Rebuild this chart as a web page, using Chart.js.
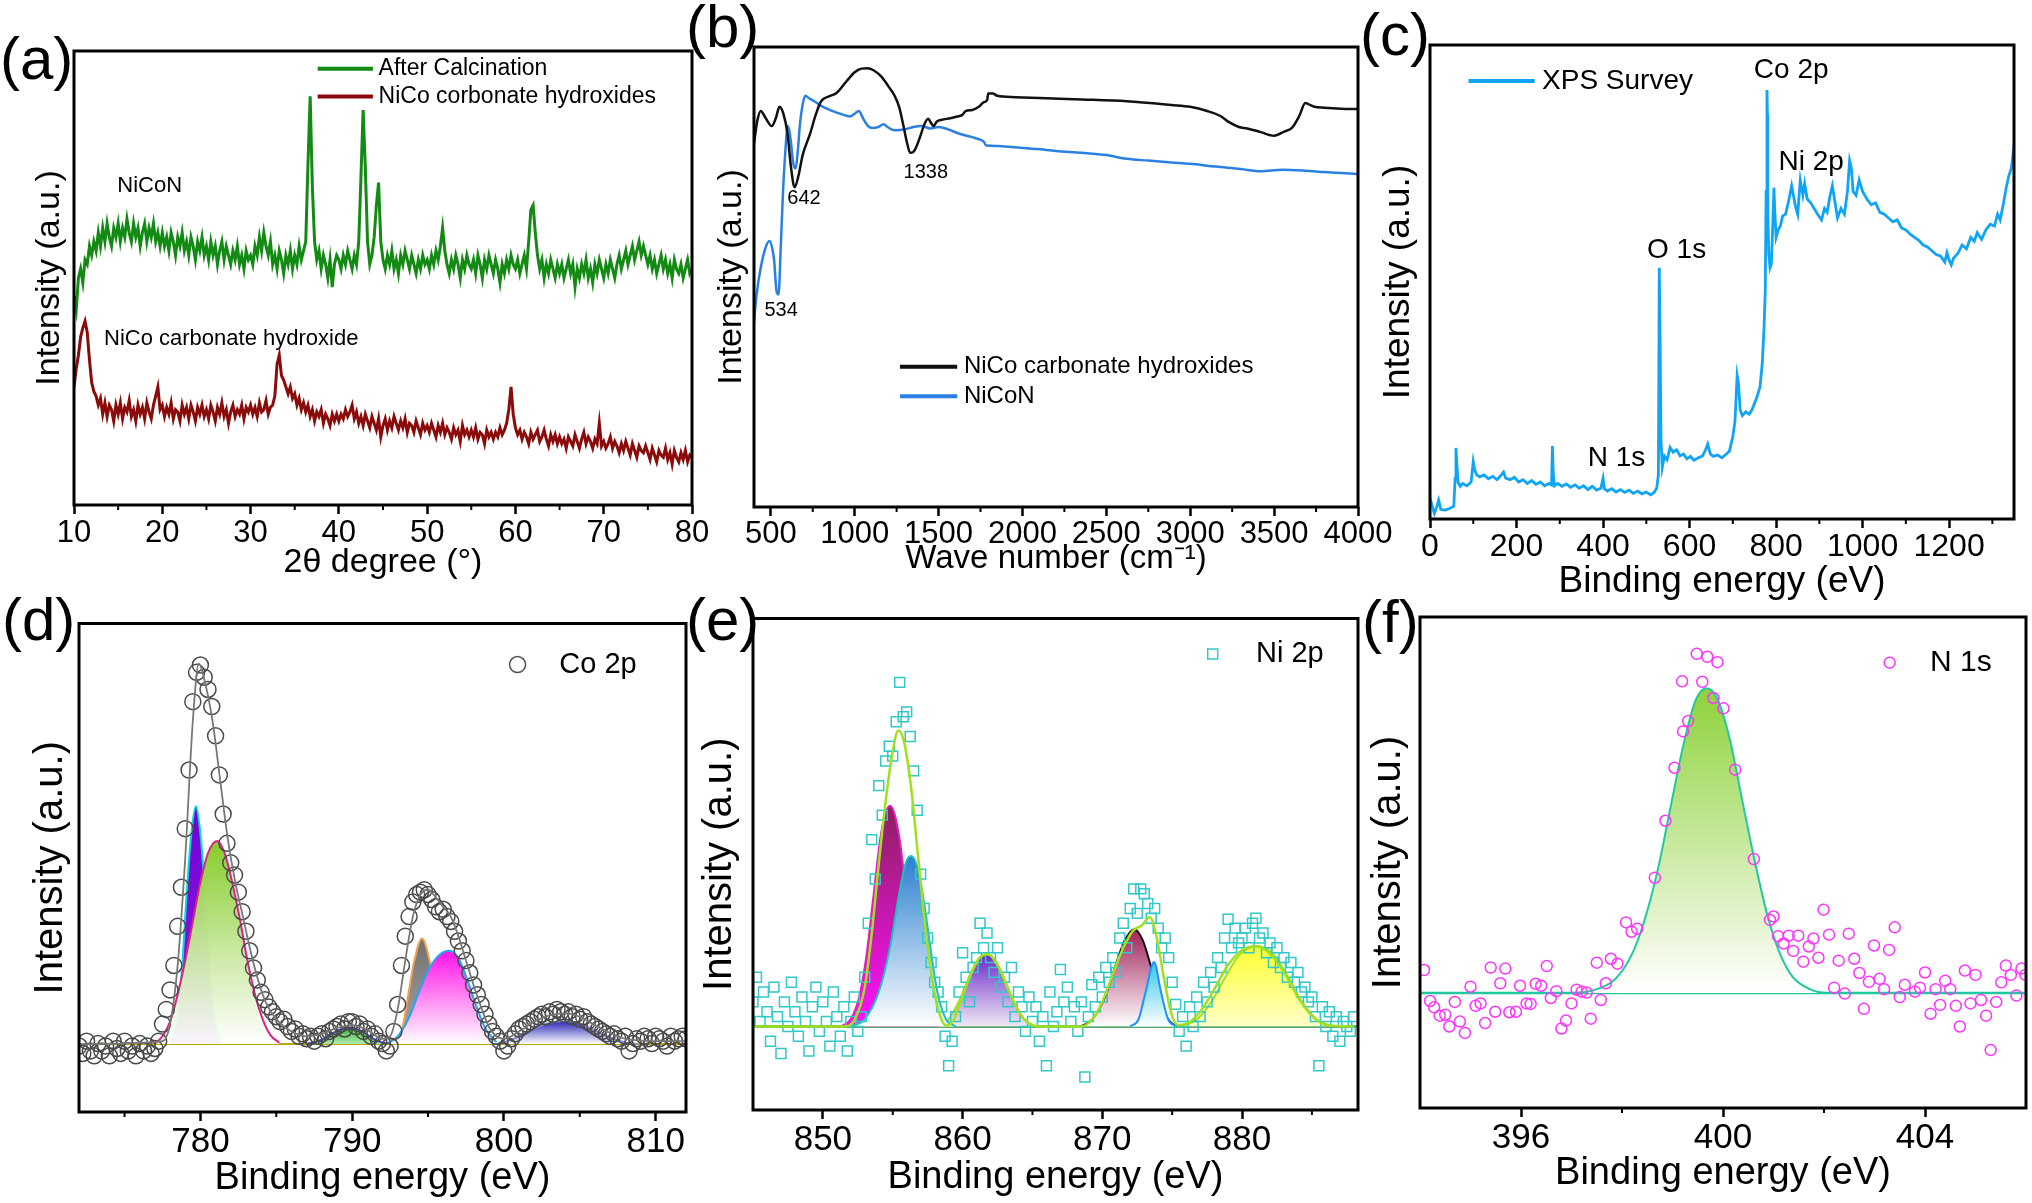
<!DOCTYPE html>
<html>
<head>
<meta charset="utf-8">
<script src="https://cdn.jsdelivr.net/npm/chart.js@4.4.0/dist/chart.umd.min.js"></script>
<style>
html, body { margin: 0; padding: 0; background: #fff; }
body { width: 2032px; height: 1203px; position: relative; overflow: hidden; font-family: 'Liberation Sans', Arial, sans-serif; }
.pan { position: absolute; }
.lbl { position: absolute; font-size: 60px; line-height: 60px; color: #000; }
</style>
</head>
<body>
<div class="lbl" style="left:0px;top:29px">(a)</div>
<div class="lbl" style="left:686px;top:-3px">(b)</div>
<div class="lbl" style="left:1360px;top:5px">(c)</div>
<div class="lbl" style="left:2px;top:590px">(d)</div>
<div class="lbl" style="left:686px;top:590px">(e)</div>
<div class="lbl" style="left:1362px;top:592px">(f)</div>
<script>
// ---------- (a) XRD, 10-80 deg every 0.25 deg ----------
const xrdStart = 10, xrdStep = 0.25;
const xrdNiCoN = [
  46, 43, 50, 52, 49, 54, 53, 57, 55, 58, 56, 60, 57, 61, 58, 62, 59, 57, 61, 59,
  62, 58, 61, 59, 63, 60, 58, 62, 59, 61, 57, 60, 62, 58, 61, 59, 62, 58, 60, 57,
  60, 57, 59, 56, 60, 58, 55, 59, 57, 60, 56, 58, 55, 59, 57, 54, 58, 56, 59, 55,
  57, 54, 58, 55, 57, 53, 56, 58, 54, 57, 55, 53, 56, 54, 57, 53, 55, 52, 56, 54,
  55, 53, 57, 55, 59, 56, 60, 57, 55, 58, 53, 55, 52, 56, 54, 51, 55, 53, 56, 52,
  55, 53, 57, 54, 56, 58, 75, 90, 70, 58, 54, 56, 52, 55, 53, 50, 54, 48, 53, 55,
  54, 52, 55, 53, 56, 54, 52, 55, 53, 58, 72, 87, 74, 58, 53, 55, 59, 66, 71, 58,
  54, 52, 55, 53, 56, 52, 54, 51, 55, 53, 56, 54, 52, 55, 53, 51, 54, 52, 55, 53,
  54, 52, 55, 53, 56, 54, 57, 61, 56, 53, 51, 54, 52, 55, 53, 50, 54, 52, 55, 53,
  52, 54, 51, 55, 53, 50, 54, 52, 55, 53, 51, 54, 52, 49, 53, 51, 54, 52, 55, 53,
  52, 54, 51, 53, 55, 52, 58, 65, 66, 60, 55, 52, 54, 50, 53, 51, 54, 52, 50, 53,
  51, 53, 50, 52, 54, 51, 53, 48, 52, 50, 53, 51, 54, 50, 52, 49, 53, 51, 54, 52,
  50, 53, 51, 54, 52, 50, 53, 55, 52, 54, 56, 53, 55, 57, 54, 56, 58, 55, 57, 55,
  53, 55, 52, 54, 51, 53, 55, 52, 54, 51, 53, 50, 54, 52, 51, 53, 50, 52, 54, 51,
  52
];
const xrdCarbonate = [
  26, 30, 33, 37, 39, 40.5, 38, 32, 27, 25, 24, 22, 23.5, 20, 22.5, 19.5, 22, 21, 18.5, 22,
  20, 22.5, 19, 21.5, 20.5, 23, 19.5, 21, 18.5, 22, 20, 21.5, 19, 22.5, 20.5, 19, 22, 24, 26, 21,
  22, 19.5, 21.5, 20, 22.5, 19, 21, 20.5, 18.5, 22, 20, 21.5, 19, 22, 20.5, 18.5, 21.5, 20, 22, 19.5,
  21, 19, 22, 20.5, 18.5, 21.5, 20, 22.5, 19.5, 21, 18, 20.5, 22, 19.5, 21, 20, 22, 19, 21.5, 20.5,
  22, 20, 21.5, 19.5, 22.5, 20.5, 21, 23, 20, 21.5, 22, 24, 31, 33, 28.5, 27.5, 26, 24.5, 26, 23.5,
  24.5, 22, 23.5, 21, 22.5, 20.5, 22, 19.5, 21, 18.5, 20.5, 19.5, 21, 18, 20, 19, 17.5, 20, 18.5, 20,
  18.5, 20, 19, 21, 19.5, 20.5, 22, 19, 20.5, 18, 19.5, 17.5, 20, 18.5, 17, 19.5, 18, 16.5, 19, 15,
  17.5, 19, 16.5, 18.5, 17, 19.5, 18, 16.5, 18.5, 17, 19, 16, 18, 17.5, 16, 18.5, 17, 15.5, 18, 16.5,
  17.5, 16, 18, 16.5, 15, 17.5, 16, 18, 15.5, 17, 16, 14.5, 17, 15.5, 16.5, 14, 17.5, 15.5, 16.5, 15,
  16.5, 15, 17, 14.5, 16, 15.5, 13.5, 16.5, 15, 16, 14.5, 16, 15, 17, 15.5, 16.5, 18, 21, 26, 20,
  17, 15.5, 16.5, 14.5, 16, 15, 13.5, 16, 14.5, 15.5, 16.5, 14, 15, 16.5, 14.5, 13, 15.5, 14, 15.5, 13.5,
  15, 13.5, 14.5, 12.5, 15, 14, 13, 15.5, 14, 12.5, 14.5, 16, 13.5, 15, 14, 12.5, 14.5, 13.5, 18, 13,
  14, 12.5, 13.5, 15, 12.5, 14, 13, 11.5, 13.5, 12, 14, 12.5, 11, 13.5, 12, 10.5, 13, 12, 11.5, 13,
  11.5, 10, 12.5, 11, 9.5, 12, 11, 10.5, 12.5, 10, 11.5, 9, 12, 10.5, 9.5, 11.5, 10, 12, 9.5, 11,
  10.5
];
const xrdTicks = [10, 20, 30, 40, 50, 60, 70, 80];
const xrdMinor = [15, 25, 35, 45, 55, 65, 75];

// ---------- (b) FTIR ----------
const ftirCarbX = [400, 420, 440, 470, 506, 530, 552, 575, 600, 620, 642, 665, 690, 733, 770, 800, 850, 892, 950, 1000,
  1040, 1078, 1110, 1158, 1200, 1238, 1265, 1290, 1310, 1331, 1350, 1371, 1395, 1411, 1438, 1455, 1470, 1490, 1520, 1570,
  1611, 1640, 1664, 1700, 1740, 1770, 1790, 1796, 1823, 1850, 1957, 2100, 2356, 2622, 2888, 3000, 3101, 3180, 3234, 3290,
  3340, 3420, 3500, 3560, 3606, 3650, 3686, 3720, 3739, 3800, 3900, 4000];
const ftirCarbY = [79, 84, 86.1, 84.5, 82.8, 84.5, 87, 85.5, 81.1, 74, 69.5, 72, 76.5, 81, 85.5, 88.2, 89.3, 90, 92.5, 94.5,
  95.3, 95.4, 95, 93.6, 91.5, 89.4, 87, 83, 79.5, 77, 77.2, 78.6, 81, 82.8, 84.4, 83.5, 82.8, 83.8, 84.2, 84.5,
  84.9, 85.2, 86.1, 86.3, 87, 88, 88.5, 89.9, 89.9, 89.4, 89.1, 88.9, 88.6, 88.2, 87.4, 87.0, 86.1, 85, 83.6, 82.6,
  82.3, 81.5, 80.7, 81.6, 82.4, 85, 87.8, 87.3, 87, 86.8, 86.6, 86.5];
const ftirNiCoNX = [400, 415, 440, 470, 493, 510, 520, 534, 546, 560, 573, 590, 600, 612, 621, 635, 648, 660, 675, 690,
  706, 730, 759, 800, 866, 920, 972, 1000, 1025, 1050, 1080, 1105, 1140, 1172, 1200, 1238, 1300, 1350, 1398, 1450,
  1500, 1557, 1620, 1700, 1744, 1770, 1784, 1850, 1950, 2090, 2200, 2356, 2500, 2622, 2750, 2888, 3000, 3154, 3300, 3420,
  3550, 3686, 3800, 3900, 4000];
const ftirNiCoNY = [40.3, 46, 52, 56.5, 57.8, 56, 53.6, 47, 46.2, 57, 68.6, 79, 82.8, 81.5, 79, 74.5, 73.6, 77, 83.6, 87.5,
  89.4, 88.8, 88.2, 87.2, 86.1, 85.4, 84.9, 85.5, 86.1, 84.5, 82.8, 82.4, 82.6, 83.2, 82.5, 81.9, 82.1, 82.6, 82.8, 82.3,
  82.6, 82.1, 81.2, 80.4, 79.9, 79.4, 78.6, 78.5, 78.2, 77.8, 77.4, 77, 76.5, 75.7, 75.3, 74.9, 74.6, 74, 73.5, 73,
  73.3, 73.1, 72.8, 72.6, 72.4];
const ftirTicks = [500, 1000, 1500, 2000, 2500, 3000, 3500, 4000];
const ftirMinor = [750, 1250, 1750, 2250, 2750, 3250, 3750];

// ---------- (c) XPS survey ----------
const surveyX = [0, 5, 10, 15, 20, 25, 35, 45, 55, 58, 60, 62, 65, 70, 75, 85, 95, 100, 103, 108,
  115, 125, 135, 145, 155, 165, 170, 175, 185, 195, 205, 215, 225, 235, 245, 255, 265, 275, 281, 283,
  285, 288, 295, 305, 315, 325, 335, 345, 355, 365, 375, 385, 395, 400, 403, 410, 420, 430, 440, 450,
  460, 470, 480, 490, 500, 510, 518, 524, 528, 530, 532, 534, 537, 542, 548, 555, 562, 570, 578, 586,
  594, 602, 610, 620, 630, 637, 642, 648, 655, 665, 675, 685, 692, 700, 705, 710, 713, 717, 722, 730,
  738, 745, 755, 763, 768, 772, 775, 777, 779, 780, 781, 783, 786, 789, 792, 795, 797, 800, 805, 810,
  815, 822, 830, 836, 840, 845, 850, 856, 862, 866, 872, 880, 888, 896, 905, 912, 918, 925, 930, 935,
  942, 950, 958, 965, 970, 974, 978, 985, 992, 1000, 1010, 1020, 1030, 1040, 1050, 1060, 1070, 1080, 1090, 1100,
  1110, 1120, 1130, 1140, 1150, 1160, 1170, 1180, 1190, 1195, 1200, 1205, 1210, 1220, 1230, 1240, 1250, 1258, 1265, 1275,
  1285, 1295, 1305, 1312, 1318, 1325, 1332, 1338, 1344, 1348, 1350];
const surveyY = [4.4, 2.8, 1.2, 2.4, 4.0, 2.0, 1.9, 2.2, 2.7, 8.5, 15.0, 11.7, 7.7, 6.9, 7.5, 7.0, 7.8, 12.1, 10.5, 9.3,
  8.9, 9.3, 8.5, 9.0, 8.3, 9.3, 9.9, 8.6, 8.3, 8.8, 7.8, 8.3, 7.5, 8.1, 7.3, 7.8, 7.0, 7.5, 7.2, 15.4,
  9.5, 7.0, 7.5, 6.9, 7.4, 6.7, 7.2, 6.5, 7.0, 6.2, 6.9, 6.1, 6.5, 8.6, 6.4, 5.9, 6.4, 5.7, 6.2, 5.6,
  6.1, 5.4, 5.9, 5.3, 5.7, 5.1, 5.6, 6.5, 9.3, 53.0, 36.8, 16.6, 10.9, 13.3, 12.5, 15.1, 14.1, 14.6, 13.3, 13.7,
  12.7, 13.2, 12.4, 12.9, 13.3, 14.6, 15.8, 13.7, 13.2, 13.5, 12.9, 13.7, 14.3, 17.4, 20.6, 30.3, 28.7, 23.0, 21.8, 22.6,
  22.1, 23.2, 25.5, 27.9, 32.7, 40.0, 48.1, 69.1, 90.5, 85.3, 64.3, 56.1, 53.0, 53.8, 61.0, 69.9, 65.1, 59.4, 61.0, 61.8,
  63.9, 64.3, 67.5, 70.3, 68.3, 65.9, 64.3, 71.5, 68.3, 70.7, 67.5, 66.7, 65.5, 64.3, 63.1, 65.5, 64.7, 68.3, 70.3, 67.5,
  63.5, 65.5, 64.3, 69.1, 75.6, 74.0, 69.1, 68.3, 71.5, 69.1, 67.5, 66.3, 66.7, 64.7, 64.3, 63.5, 62.7, 63.1, 61.4, 61.0,
  60.1, 59.4, 58.8, 57.8, 57.4, 56.6, 55.8, 55.5, 54.2, 56.2, 54.6, 53.6, 55.0, 56.0, 57.8, 57.0, 59.4, 58.6, 60.4, 59.0,
  61.0, 62.2, 61.8, 64.3, 63.1, 66.3, 69.9, 72.4, 74.0, 77.2, 78.8];
const surveyTicks = [0, 200, 400, 600, 800, 1000, 1200];
const surveyMinor = [100, 300, 500, 700, 900, 1100, 1300];

// ---------- (d) Co 2p, 772-812 eV every 0.25 eV ----------
const coStart = 772, coStep = 0.25;
const coData = [
  13.5, 12.0, 14.5, 12.5, 11.5, 14.0, 12.5, 13.5, 11.5, 14.5, 13.0, 12.0, 14.5, 12.5, 13.5, 11.5, 14.0, 12.5, 13.5, 12.0,
  13.0, 14.5, 18.0, 21.0, 25.0, 30.0, 38.0, 46.0, 58.0, 70.0, 84.0, 90.0, 91.5, 89.0, 86.5, 83.0, 77.0, 69.0, 61.0, 55.0,
  51, 48.5, 45, 41, 37, 33, 29.5, 27, 24.5, 23, 21.5, 20.5, 19.5, 18.5, 19, 17.5, 16.5, 17, 15.5, 16,
  15, 15.5, 14.5, 15.5, 16, 15, 16.5, 17, 17.5, 18, 17, 18.5, 18.5, 17.5, 18, 16.5, 17, 15.5, 16, 14.5,
  14, 12.5, 13.5, 16.5, 22, 30, 36, 40, 43, 44.5, 45, 45.5, 44.5, 43.5, 42, 41, 41.5, 40, 39, 37,
  35, 33, 31, 28.5, 26, 24, 22, 20, 18, 16.5, 15.5, 14.5, 12.5, 13.5, 15, 16, 17, 17.5, 18, 18.5,
  19, 19.5, 20, 19.5, 20.5, 20, 21, 20.5, 20, 20.5, 19.5, 20, 19, 19.5, 18.5, 18, 17.5, 17, 16.5, 16,
  15.5, 16, 15, 14.5, 15.5, 12.5, 14, 15, 14.5, 15.5, 15, 14, 15.5, 15, 14.5, 13.5, 15.5, 14.5, 15, 15.5,
  15.0
];
const coFitX = [772, 777.5, 778, 778.5, 779, 779.5, 779.9, 780.3, 780.8, 781.3, 781.8, 782.3, 782.8, 783.3, 783.8,
  784.3, 785, 786, 787, 788, 789, 790, 791, 792, 792.5, 793, 793.5, 794, 794.5, 795, 795.5, 796, 796.5, 797, 797.5,
  798, 798.5, 799, 799.5, 800, 801, 802, 803, 804, 805, 806, 807, 808, 810, 812];
const coFitY = [13.9, 14.5, 18, 30, 52, 80, 91.8, 88, 80, 68, 56, 47, 40, 33, 27,
  22.5, 19, 16.5, 15.5, 16, 17.2, 17.8, 16.8, 15, 15.5, 21, 31, 40, 44.5, 45.5, 44, 42, 40, 36, 31,
  26, 21.5, 17.5, 15.5, 15, 16.5, 18.5, 19.8, 20.2, 19.5, 17.8, 16.2, 15, 14.5, 14.5];
const coBase = 13.9;
const coP1X = [778.0, 778.5, 778.8, 779.1, 779.4, 779.7, 780.0, 780.3, 780.6, 780.9, 781.4];
const coP1Y = [14.2, 20, 30, 45, 57, 62.6, 57, 45, 30, 20, 14.2];
const coP2X = [777.0, 777.5, 778, 778.5, 779, 779.5, 780, 780.5, 781.1, 781.6, 782.1, 782.6, 783.1, 783.6, 784.1, 784.6, 785.2];
const coP2Y = [14, 15.5, 18.5, 24, 31, 39, 47, 53, 55.5, 53, 47, 39.5, 31, 24, 19, 15.8, 14.2];
const coP3X = [787, 788, 789, 789.8, 790.6, 791.5, 792.3];
const coP3Y = [13.9, 14.8, 16.6, 17.3, 16.6, 14.8, 13.9];
const coP4X = [792.8, 793.3, 793.7, 794.1, 794.6, 795.1, 795.5, 795.9, 796.4];
const coP4Y = [14, 17, 24, 31, 35.5, 31, 24, 17, 14];
const coP5X = [792.3, 793, 793.7, 794.4, 795.1, 795.8, 796.4, 797, 797.6, 798.2, 798.8, 799.5];
const coP5Y = [14, 15.5, 19, 24.5, 29.5, 32.3, 33, 31.5, 27, 21.5, 17, 14.3];
const coP6X = [799.5, 800.5, 801.5, 802.5, 803.5, 804, 804.8, 805.8, 806.8, 808, 808.8];
const coP6Y = [13.9, 14.8, 16.3, 17.8, 18.5, 18.6, 18.3, 17, 15.5, 14.2, 13.9];
const coTicks = [780, 790, 800, 810];
const coMinor = [775, 785, 795, 805];

// ---------- (e) Ni 2p, 845-888 eV every 0.25 eV ----------
const niStart = 845, niStep = 0.25;
const niData = [
  22, 27, 18, 24, 20, 14, 25, 19, 11.5, 22, 17, 26, 20, 15, 23, 18, 12, 21, 25, 16,
  22, 18, 13, 24, 19, 15, 21, 12, 18, 23, 16, 19, 27, 38, 55, 47, 66, 60, 71, 74,
  72, 79, 87, 80, 81, 76, 69, 61, 48, 41, 35, 30, 26, 24, 21, 15, 9, 14, 19, 24,
  32, 27, 22, 29, 31, 38, 33, 36, 31, 28, 33, 25, 27, 22, 29, 19, 24, 21, 16, 23,
  18, 21, 14, 19, 9, 24, 17, 20, 28.6, 22, 25, 18, 21, 16, 22, 6.7, 19, 25.5, 21, 27,
  23, 29, 26, 31, 28, 35, 38, 33, 41, 45, 40, 45, 44, 42, 39, 41, 37, 33, 35, 31,
  26, 21.5, 16, 19, 13, 21, 17, 23, 19, 26, 22, 28, 25, 31, 29, 35, 38.8, 33, 37, 34,
  35, 37, 33, 38, 39, 35, 36, 32, 34, 30, 33, 29, 31, 27, 30, 26, 28, 24, 25, 22,
  23, 19, 9, 21, 17, 20, 15, 19, 14, 18, 17, 16,
  19
];
const niFitX = [845, 851.5, 852.3, 853, 853.5, 854, 854.5, 855, 855.4, 855.8, 856.3, 856.8, 857.3, 857.8, 858.3,
  858.8, 859.3, 859.8, 860.5, 861.2, 861.8, 862.5, 863.2, 864, 864.8, 865.5, 868.5, 869.3, 870, 870.8,
  871.5, 872.2, 872.8, 873.4, 873.9, 874.4, 874.9, 875.4, 876, 877, 878, 879, 880, 881, 882, 883, 884, 885, 886, 888];
const niFitY = [17, 17, 18.5, 25, 36, 50, 63, 73, 77.2, 75, 66, 52, 38, 27, 20,
  17.2, 18, 21.5, 27, 30.9, 31.7, 29.5, 25, 20, 17.5, 17, 17, 18.5, 22, 28,
  33, 36.5, 37.5, 39.2, 35, 27, 20, 17.3, 17.5, 20, 24.5, 29.5, 32.5, 33.3, 31.8, 28, 23, 19.2, 17.3, 17];
const niBase = 17;
const niP1X = [851.3, 852, 852.6, 853.1, 853.6, 854.1, 854.5, 854.8, 855.1, 855.5, 856, 856.5, 857, 857.6, 858.3];
const niP1Y = [17, 18.5, 23, 31, 43, 55, 60.5, 61.9, 60.5, 55, 43, 31, 23, 18.5, 17];
const niP2X = [852, 853, 854, 854.8, 855.4, 855.9, 856.3, 856.7, 857.2, 857.7, 858.2, 858.8, 859.5];
const niP2Y = [17, 18.5, 24, 33, 43, 50, 51.7, 50, 43, 33, 24, 18.5, 17];
const niP3X = [858.3, 859, 859.8, 860.6, 861.2, 861.7, 862.2, 862.8, 863.6, 864.4, 865.2];
const niP3Y = [17, 18.5, 22.5, 28, 31, 31.7, 31, 28, 22.5, 18.5, 17];
const niP4X = [868.5, 869.3, 870.2, 870.9, 871.6, 872.3, 872.9, 873.5, 874.1, 874.7, 875.3];
const niP4Y = [17, 18.5, 23, 29, 34.5, 36.8, 34.5, 29, 23, 18.5, 17];
const niP5X = [872, 872.6, 873.1, 873.7, 874.2, 874.7, 875.3];
const niP5Y = [17, 18.5, 24, 30.1, 24, 18.5, 17];
const niP6X = [875.7, 876.8, 877.8, 878.8, 879.8, 881.1, 882.3, 883.3, 884.3, 885.3, 886.5];
const niP6Y = [17, 18.5, 22, 27, 31.5, 33.3, 31.5, 27, 22, 18.5, 17];
const niTicks = [850, 860, 870, 880];
const niMinor = [855, 865, 875, 885];

// ---------- (f) N 1s ----------
const nX = [394.08, 394.20, 394.28, 394.39, 394.50, 394.58, 394.69, 394.79, 394.89, 395.00,
  395.10, 395.20, 395.29, 395.40, 395.49, 395.59, 395.69, 395.77, 395.90, 395.98,
  396.11, 396.19, 396.29, 396.40, 396.51, 396.59, 396.70, 396.80, 396.89, 397.00,
  397.10, 397.20, 397.30, 397.38, 397.50, 397.58, 397.68, 397.78, 397.91, 398.08,
  398.19, 398.30, 398.65, 398.86, 399.04, 399.21, 399.19, 399.31, 399.48, 399.59,
  399.69, 399.81, 399.89, 400.01, 400.24, 400.61, 400.93, 401.00, 401.09, 401.20,
  401.30, 401.39, 401.49, 401.59, 401.70, 401.79, 401.89, 401.99, 402.10, 402.20,
  402.29, 402.41, 402.49, 402.60, 402.70, 402.79, 402.89, 402.99, 403.10, 403.19,
  403.29, 403.40, 403.50, 403.60, 403.80, 403.90, 404.00, 404.11, 404.21, 404.30,
  404.40, 404.50, 404.61, 404.69, 404.79, 404.90, 405.00, 405.11, 405.21, 405.30,
  405.41, 405.51, 405.60, 405.70, 405.81, 405.91, 405.99];
const nY = [28.1, 21.8, 20.5, 18.8, 19.0, 16.6, 21.6, 17.6, 15.3, 24.7,
  20.8, 21.3, 17.3, 28.6, 19.6, 25.4, 28.4, 19.5, 19.6, 24.9,
  21.3, 21.2, 25.3, 24.9, 28.9, 22.4, 23.8, 16.2, 17.8, 21.3,
  24.1, 23.7, 23.5, 18.2, 29.6, 22.0, 25.4, 30.4, 29.4, 37.8,
  35.9, 36.5, 46.9, 58.5, 69.3, 76.7, 86.9, 78.8, 92.5, 86.8,
  91.9, 83.5, 90.8, 81.4, 68.9, 50.7, 38.3, 39.0, 35.0, 33.5,
  35.1, 32.0, 35.1, 29.8, 32.9, 34.5, 30.6, 40.4, 35.3, 24.5,
  30.0, 23.3, 35.5, 30.4, 27.5, 20.2, 25.7, 33.1, 26.3, 24.2,
  32.2, 36.8, 22.6, 25.1, 23.7, 24.5, 27.6, 19.2, 24.2, 21.0,
  25.9, 24.2, 20.8, 16.6, 28.0, 21.3, 27.1, 22.0, 18.8, 11.8,
  21.6, 25.6, 29.0, 27.1, 22.9, 28.4, 27.1];
const nFitX = [394, 397.03, 397.53, 397.87, 398.20, 398.45, 398.71, 398.96, 399.21, 399.46,
  399.67, 399.88, 400.13, 400.38, 400.63, 400.88, 401.13, 401.38, 401.72, 402.05, 406];
const nFitY = [23.4, 23.4, 24.3, 26.3, 31.4, 38.4, 48.6, 61.2, 73.7, 83.1,
  85.5, 83.5, 75.3, 62.7, 50.2, 39.2, 31.4, 26.7, 24.2, 23.4, 23.4];
const nBase = 23.4;
const nTicks = [396, 400, 404];
const nMinor = [398, 402];

// ---------- helpers ----------
const SANS = "'Liberation Sans', Arial, sans-serif";
Chart.defaults.font.family = SANS;
Chart.defaults.color = '#000';

function pts(xs, ys) {
  return xs.map((x, i) => ({ x: x, y: ys[i] }));
}
function gridPts(start, step, ys) {
  return ys.map((y, i) => ({ x: +(start + i * step).toFixed(3), y: y }));
}
function grad(top, bottom, yTop, yBot) {
  return (c) => {
    const ch = c.chart;
    if (!ch.chartArea) return top;
    const y = ch.scales.y;
    const g = ch.ctx.createLinearGradient(0, y.getPixelForValue(yTop), 0, y.getPixelForValue(yBot));
    g.addColorStop(0, top);
    g.addColorStop(1, bottom);
    return g;
  };
}
function line(data, color, width, order, extra) {
  return Object.assign({ data: data, borderColor: color, borderWidth: width, pointRadius: 0,
    fill: false, order: order }, extra || {});
}
function peak(xs, ys, edge, top, bottom, yTop, base, order) {
  return {
    data: pts(xs, ys), borderColor: edge, borderWidth: 2, pointRadius: 0,
    cubicInterpolationMode: 'monotone', backgroundColor: grad(top, bottom, yTop, base),
    fill: { value: base }, order: order
  };
}
function marks(data, style, r, color, bw, order) {
  return { data: data, showLine: false, pointStyle: style, pointRadius: r, pointBorderColor: color,
    pointBackgroundColor: 'rgba(255,255,255,0)', pointBorderWidth: bw, borderColor: color, order: order };
}

const framePlugin = {
  id: 'frame',
  afterDatasetsDraw(chart, args, opts) {
    const { ctx, chartArea: a } = chart;
    const x = chart.scales.x, y = chart.scales.y;
    ctx.save();
    (opts.lines || []).forEach(l => {
      ctx.strokeStyle = l.color;
      ctx.lineWidth = l.w || 3;
      ctx.beginPath();
      ctx.moveTo(x.getPixelForValue(l.x1), y.getPixelForValue(l.y));
      ctx.lineTo(x.getPixelForValue(l.x2), y.getPixelForValue(l.y));
      ctx.stroke();
    });
    (opts.marks || []).forEach(m => {
      const px = x.getPixelForValue(m.x), py = y.getPixelForValue(m.y);
      ctx.strokeStyle = m.color;
      ctx.lineWidth = m.bw || 1.5;
      ctx.beginPath();
      if (m.style === 'rect') ctx.rect(px - m.r, py - m.r, 2 * m.r, 2 * m.r);
      else ctx.arc(px, py, m.r, 0, Math.PI * 2);
      ctx.stroke();
    });
    (opts.texts || []).forEach(t => {
      ctx.font = t.size + 'px ' + SANS;
      ctx.fillStyle = '#000';
      ctx.textAlign = t.align || 'left';
      ctx.textBaseline = 'middle';
      ctx.fillText(t.text, x.getPixelForValue(t.x), y.getPixelForValue(t.y));
    });
    ctx.strokeStyle = '#000';
    ctx.lineWidth = 3;
    ctx.strokeRect(a.left, a.top, a.right - a.left, a.bottom - a.top);
    ctx.lineWidth = 2;
    (opts.minor || []).forEach(v => {
      const px = x.getPixelForValue(v);
      ctx.beginPath();
      ctx.moveTo(px, a.bottom);
      ctx.lineTo(px, a.bottom + 5);
      ctx.stroke();
    });
    ctx.restore();
  }
};
Chart.register(framePlugin);

function makeChart(p, datasets) {
  const [l, t, r, b] = p.box;
  const padTop = 8, padRight = 44;
  const cl = Math.round(p.yTitleX - p.yFont * 0.6 - 2);
  const ct = t - padTop;
  const cb = Math.round(p.xTitleY + p.xFont * 0.6 + 2);
  const W = l - cl, H = cb - b;
  const div = document.createElement('div');
  div.className = 'pan';
  div.style.left = cl + 'px';
  div.style.top = ct + 'px';
  div.style.width = (r + padRight - cl) + 'px';
  div.style.height = (cb - ct) + 'px';
  const cv = document.createElement('canvas');
  div.appendChild(cv);
  document.body.appendChild(div);
  const tickPad = Math.max(0, p.tickY - b - 9 - p.tickFont * 0.6);

  new Chart(cv, {
    type: 'line',
    data: { datasets: datasets },
    options: {
      responsive: true, maintainAspectRatio: false, devicePixelRatio: 1, animation: false, events: [],
      layout: { padding: { top: padTop, right: padRight, left: 0, bottom: 0 } },
      plugins: { legend: { display: false }, tooltip: { enabled: false }, frame: p.frame },
      scales: {
        x: {
          type: 'linear', min: p.xMin, max: p.xMax,
          afterBuildTicks: s => { s.ticks = p.ticks.map(v => ({ value: v })); },
          afterFit: s => { s.height = H; s.paddingLeft = 0; s.paddingRight = 0; },
          ticks: { autoSkip: false, maxRotation: 0, padding: tickPad, color: '#000',
            font: { size: p.tickFont, family: p.tickFamily || SANS }, callback: v => String(v) },
          grid: { display: true, drawOnChartArea: false, drawTicks: true, tickLength: 9, tickWidth: 2.5, tickColor: '#000' },
          border: { display: false },
          title: { display: true, text: p.xTitle, color: '#000', font: { size: p.xFont }, padding: { top: 0, bottom: 2 } }
        },
        y: {
          type: 'linear', min: 0, max: 100,
          afterFit: s => { s.width = W; s.paddingTop = 0; s.paddingBottom = 0; },
          ticks: { display: false }, grid: { display: false }, border: { display: false },
          title: { display: true, text: 'Intensity (a.u.)', color: '#000', font: { size: p.yFont }, padding: { top: 2, bottom: 0 } }
        }
      }
    }
  });
}

// (a)
makeChart({
  box: [74, 51, 692, 505], yTitleX: 49, yFont: 34, xTitleY: 563, xFont: 34, tickY: 533, tickFont: 31,
  xMin: 10, xMax: 80, ticks: xrdTicks, xTitle: '2\u03b8 degree (\u00b0)',
  frame: {
    minor: xrdMinor,
    lines: [{ x1: 37.6, x2: 43.86, y: 96.1, color: '#138a13', w: 4 }, { x1: 37.6, x2: 43.86, y: 90.0, color: '#8b0a0a', w: 4 }],
    texts: [
      { text: 'After Calcination', x: 44.5, y: 96.1, size: 23 },
      { text: 'NiCo corbonate hydroxides', x: 44.5, y: 90.0, size: 23 },
      { text: 'NiCoN', x: 14.9, y: 70.2, size: 22 },
      { text: 'NiCo carbonate hydroxide', x: 13.4, y: 36.5, size: 22 }
    ]
  }
}, [
  line(gridPts(xrdStart, xrdStep, xrdNiCoN), '#138a13', 3, 0),
  line(gridPts(xrdStart, xrdStep, xrdCarbonate), '#8b0a0a', 3, 1)
]);

// (b)
makeChart({
  box: [754, 47, 1358, 507], yTitleX: 731, yFont: 34, xTitleY: 559, xFont: 33, tickY: 530, tickFont: 31,
  tickFamily: "'Liberation Sans Narrow', 'Liberation Sans', Arial, sans-serif",
  xMin: 400, xMax: 4000, ticks: ftirTicks, xTitle: 'Wave number (cm\u207b\u00b9)',
  frame: {
    minor: ftirMinor,
    lines: [{ x1: 1270, x2: 1611, y: 30.5, color: '#111', w: 4 }, { x1: 1270, x2: 1611, y: 24.1, color: '#2a80e0', w: 4 }],
    texts: [
      { text: 'NiCo carbonate hydroxides', x: 1651, y: 30.5, size: 24 },
      { text: 'NiCoN', x: 1651, y: 24.1, size: 24 },
      { text: '642', x: 698, y: 67, size: 20, align: 'center' },
      { text: '1338', x: 1424, y: 72.8, size: 20, align: 'center' },
      { text: '534', x: 562, y: 42.8, size: 20, align: 'center' }
    ]
  }
}, [
  line(pts(ftirCarbX, ftirCarbY), '#111', 2.5, 0, { cubicInterpolationMode: 'monotone' }),
  line(pts(ftirNiCoNX, ftirNiCoNY), '#2a80e0', 2.5, 1, { cubicInterpolationMode: 'monotone' })
]);

// (c)
makeChart({
  box: [1430, 45, 2014, 519], yTitleX: 1399, yFont: 37, xTitleY: 582, xFont: 37, tickY: 543, tickFont: 32,
  xMin: 0, xMax: 1350, ticks: surveyTicks, xTitle: 'Binding energy (eV)',
  frame: {
    minor: surveyMinor,
    lines: [{ x1: 89, x2: 242, y: 92.4, color: '#10a4f4', w: 4 }],
    texts: [
      { text: 'XPS Survey', x: 259, y: 92.4, size: 28 },
      { text: 'Co 2p', x: 835, y: 94.7, size: 28, align: 'center' },
      { text: 'Ni 2p', x: 881, y: 75.2, size: 28, align: 'center' },
      { text: 'O 1s', x: 570, y: 56.6, size: 28, align: 'center' },
      { text: 'N 1s', x: 431, y: 12.9, size: 28, align: 'center' }
    ]
  }
}, [
  line(pts(surveyX, surveyY), '#10a4f4', 2.8, 0)
]);

// (d)
makeChart({
  box: [79, 622, 686, 1112], yTitleX: 51, yFont: 40, xTitleY: 1178, xFont: 38, tickY: 1141, tickFont: 35,
  xMin: 772, xMax: 812, ticks: coTicks, xTitle: 'Binding energy (eV)',
  frame: {
    minor: coMinor,
    marks: [{ x: 800.9, y: 91.6, style: 'circle', r: 8, color: '#505050' }],
    texts: [{ text: 'Co 2p', x: 803.65, y: 91.6, size: 29 }]
  }
}, [
  line(pts(coFitX, coFitY), '#777', 1.8, 0, { cubicInterpolationMode: 'monotone' }),
  marks(gridPts(coStart, coStep, coData), 'circle', 8, '#4a4a4a', 1.5, 1),
  peak(coP2X, coP2Y, '#e0208a', '#86cc2a', 'rgba(255,255,255,0.95)', 55.5, coBase, 2),
  peak(coP1X, coP1Y, '#00dcdc', '#7400d8', '#8a20e0', 62.6, coBase, 3),
  peak(coP5X, coP5Y, '#20a8f0', '#ff10e8', '#ffffff', 33, coBase, 4),
  peak(coP4X, coP4Y, '#f0a050', '#707070', '#a8a8a8', 35.5, coBase, 5),
  peak(coP3X, coP3Y, '#4040c0', '#30c030', '#b0e8b0', 17.3, coBase, 6),
  peak(coP6X, coP6Y, '#8888dd', '#2828b8', '#ffffff', 18.6, coBase, 7),
  line(pts([772, 812], [coBase, coBase]), '#b8a800', 2, 8)
]);

// (e)
makeChart({
  box: [753, 618, 1358, 1110], yTitleX: 720, yFont: 40, xTitleY: 1177, xFont: 38, tickY: 1137, tickFont: 35,
  xMin: 845, xMax: 888.3, ticks: niTicks, xTitle: 'Binding energy (eV)',
  frame: {
    minor: niMinor,
    marks: [{ x: 877.9, y: 92.8, style: 'rect', r: 5, color: '#30c8c8' }],
    texts: [{ text: 'Ni 2p', x: 881.0, y: 92.8, size: 29 }]
  }
}, [
  line(pts(niFitX, niFitY), '#a0e020', 2.5, 0, { cubicInterpolationMode: 'monotone' }),
  marks(gridPts(niStart, niStep, niData), 'rect', 7, '#30c8c8', 1.5, 1),
  peak(niP2X, niP2Y, '#20c0c0', '#2a7fd0', '#ffffff', 51.7, niBase, 2),
  peak(niP1X, niP1Y, '#e020c0', '#8e2060', '#ff10ff', 61.9, niBase, 3),
  peak(niP3X, niP3Y, '#a0e020', '#6a28c8', '#f0e8f5', 31.7, niBase, 4),
  peak(niP5X, niP5Y, '#1e90ff', '#30c8e8', '#ffffff', 30.1, niBase, 5),
  peak(niP4X, niP4Y, '#101010', '#a0205a', '#ffffff', 36.8, niBase, 6),
  peak(niP6X, niP6Y, '#a0e020', '#ffff30', '#ffffc8', 33.3, niBase, 7),
  line(pts([845, 888.3], [niBase, niBase]), '#1a8a3a', 2.5, 8)
]);

// (f)
makeChart({
  box: [1420, 617, 2026, 1108], yTitleX: 1389, yFont: 40, xTitleY: 1173, xFont: 38, tickY: 1135, tickFont: 35,
  xMin: 394, xMax: 406, ticks: nTicks, xTitle: 'Binding energy (eV)',
  frame: {
    minor: nMinor,
    marks: [{ x: 403.3, y: 90.7, style: 'circle', r: 5.5, color: '#ff33ff' }],
    texts: [{ text: 'N 1s', x: 404.1, y: 90.7, size: 30 }]
  }
}, [
  marks(pts(nX, nY), 'circle', 5.5, '#ff33ff', 1.5, 0),
  peak(nFitX, nFitY, '#20c8a0', '#8ed23a', '#ffffff', 85.5, nBase, 1),
  line(pts([394, 406], [nBase, nBase]), '#20c8a0', 2.5, 2)
]);
</script>
</body>
</html>
